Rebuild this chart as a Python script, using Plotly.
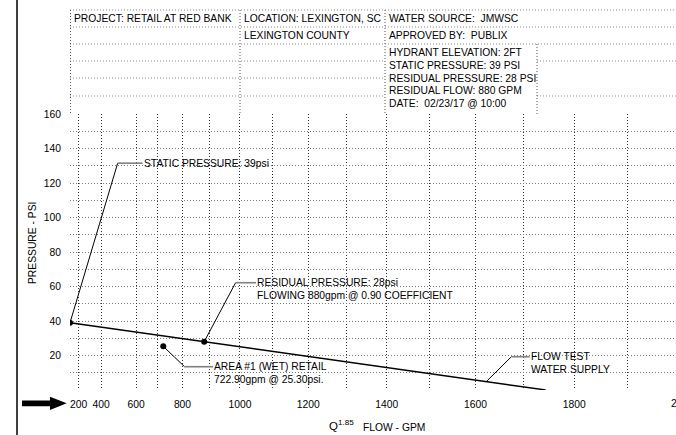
import plotly.graph_objects as go

EXP = 1.85  # N^1.85 hydraulic graph scale

# ---- data ----
supply_flow = [0, 880, 1744]          # flow test water supply line (gpm)
supply_psi = [39, 28, 0]
static_flow = [0]
static_psi = [39]
residual_flow = [880]
residual_psi = [28]
demand_flow = [722.9]
demand_psi = [25.3]

x_tick_flow = [200, 400, 600, 800, 1000, 1200, 1400, 1600, 1800]
x_tick_text = ["200", "400", "600", "800", "1000", "1200", "1400", "1600", "1800"]
x_extra_grid_flow = [0, 700, 900, 1100, 1300, 1500, 1700, 1900]
y_tick_vals = [20, 40, 60, 80, 100, 120, 140, 160]
flow_max = 1988
off_label_flow = 2000

# callouts: start point, elbow, end of horizontal leader, text lines
callout_start_flow = [0, 880, 722.9, 1623]
callout_start_psi = [39, 28, 25.3, 4.9]
callout_elbow_flow = [503, 986, 808, 1675]
callout_elbow_psi = [131.5, 62.2, 13.5, 19.3]
callout_end_flow = [631, 1050, 911, 1712]
callout_lines = [
    ["STATIC PRESSURE: 39psi"],
    ["RESIDUAL PRESSURE: 28psi", "FLOWING 880gpm @ 0.90 COEFFICIENT"],
    ["AREA #1 (WET) RETAIL", "722.90gpm @ 25.30psi."],
    ["FLOW TEST", "WATER SUPPLY"],
]

header_texts = [
    ("PROJECT: RETAIL AT RED BANK", 72, 18.3),
    ("LOCATION: LEXINGTON, SC", 242, 18.3),
    ("LEXINGTON COUNTY", 242, 35),
    ("WATER SOURCE:  JMWSC", 387, 18.3),
    ("APPROVED BY:  PUBLIX", 387, 35),
    ("HYDRANT ELEVATION: 2FT", 387, 53),
    ("STATIC PRESSURE: 39 PSI", 387, 65.5),
    ("RESIDUAL PRESSURE: 28 PSI", 387, 78),
    ("RESIDUAL FLOW: 880 GPM", 387, 90.5),
    ("DATE:  02/23/17 @ 10:00", 387, 103),
]


def t(q):
    return q ** EXP


W, H = 676, 435
L, R, T, B = 70, 0, 114, 45
PW, PH = W - L - R, H - T - B


def px(x):
    return (x - L) / PW


def py(y):
    return (H - B - y) / PH


FONT = "Arial, 'Liberation Sans', sans-serif"
FS = 10.3
fig = go.Figure()

# supply line
fig.add_trace(go.Scatter(x=[t(q) for q in supply_flow], y=supply_psi, mode="lines",
                         line=dict(color="black", width=1.4), hoverinfo="skip"))

# callout leaders
for i in range(len(callout_lines)):
    fig.add_trace(go.Scatter(
        x=[t(callout_start_flow[i]), t(callout_elbow_flow[i])],
        y=[callout_start_psi[i], callout_elbow_psi[i]],
        mode="lines", line=dict(color="black", width=1), hoverinfo="skip"))
    fig.add_trace(go.Scatter(
        x=[t(callout_elbow_flow[i]), t(callout_end_flow[i])],
        y=[callout_elbow_psi[i], callout_elbow_psi[i]],
        mode="lines", line=dict(color="#808080", width=1.6), hoverinfo="skip"))
    for j, line in enumerate(callout_lines[i]):
        fig.add_annotation(x=t(callout_end_flow[i]), y=callout_elbow_psi[i], xref="x", yref="y",
                           text=line, showarrow=False, xanchor="left", yanchor="middle",
                           yshift=-12.5 * j, xshift=-1,
                           font=dict(family=FONT, size=FS, color="black"))

# points
for fl, ps in [(static_flow, static_psi), (residual_flow, residual_psi), (demand_flow, demand_psi)]:
    fig.add_trace(go.Scatter(x=[t(q) for q in fl], y=ps, mode="markers",
                             marker=dict(color="black", size=6), hoverinfo="skip"))

grid_v = "#333333"
grid_h = "#7a7a7a"
dash = "1px,2px"

fig.update_xaxes(range=[0, t(flow_max)], tickvals=[t(q) for q in x_tick_flow], ticktext=x_tick_text,
                 showgrid=True, gridcolor=grid_v, griddash=dash, gridwidth=1,
                 minor=dict(tickvals=[t(q) for q in x_extra_grid_flow], showgrid=True,
                            gridcolor=grid_v, griddash=dash, gridwidth=1),
                 zeroline=False, showline=False, ticks="outside", ticklen=5,
                 tickcolor="rgba(0,0,0,0)", tickfont=dict(family=FONT, size=FS, color="black"))
fig.update_yaxes(range=[0, 160], tickvals=y_tick_vals,
                 showgrid=True, gridcolor=grid_h, griddash=dash, gridwidth=1,
                 minor=dict(dtick=10, tick0=0, showgrid=True, gridcolor=grid_h, griddash=dash, gridwidth=1),
                 zeroline=False, showline=False, ticks="outside", ticklen=6,
                 tickcolor="rgba(0,0,0,0)", tickfont=dict(family=FONT, size=FS, color="black"))

# off-range tick label 2000 (clipped by page edge)
fig.add_annotation(x=t(off_label_flow) / t(flow_max), y=py(403.3), xref="paper", yref="paper",
                   text=str(off_label_flow), showarrow=False, xanchor="center", yanchor="middle",
                   font=dict(family=FONT, size=FS, color="black"))

# axis titles
fig.add_annotation(x=px(32), y=py(243), xref="paper", yref="paper", text="PRESSURE - PSI",
                   textangle=-90, showarrow=False, xanchor="center", yanchor="middle",
                   font=dict(family=FONT, size=FS, color="black"))
fig.add_annotation(x=px(327), y=py(425), xref="paper", yref="paper", text="Q<sup>1.85</sup>",
                   showarrow=False, xanchor="left", yanchor="middle",
                   font=dict(family=FONT, size=11.5, color="black"))
fig.add_annotation(x=px(361), y=py(427), xref="paper", yref="paper", text="FLOW - GPM",
                   showarrow=False, xanchor="left", yanchor="middle",
                   font=dict(family=FONT, size=FS, color="black"))

# header texts
for txt, x, y in header_texts:
    fig.add_annotation(x=px(x), y=py(y), xref="paper", yref="paper", text=txt, showarrow=False,
                       xanchor="left", yanchor="middle", font=dict(family=FONT, size=FS, color="black"))

# header grid lines
hdr = dict(color="#8a8a8a", width=1, dash=dash)
hlines = [(10, 70, 676), (27, 70, 676), (44, 70, 676), (61, 70, 385), (61, 537, 676),
          (78, 70, 385), (96, 70, 385), (96, 537, 676)]
for y, x0, x1 in hlines:
    fig.add_shape(type="line", xref="paper", yref="paper", x0=px(x0), x1=px(x1), y0=py(y), y1=py(y), line=hdr)
vlines = [(70.5, 10, 114), (240, 10, 114), (385, 10, 114), (537, 44, 114)]
for x, y0, y1 in vlines:
    fig.add_shape(type="line", xref="paper", yref="paper", x0=px(x), x1=px(x), y0=py(y0), y1=py(y1),
                  line=dict(color="#555", width=1, dash=dash))

# page border line
fig.add_shape(type="line", xref="paper", yref="paper", x0=px(17), x1=px(17), y0=py(0), y1=py(435),
              line=dict(color="black", width=1.5))

# big arrow
pts = [(22, 400.5), (50, 400.5), (50, 396.7), (66.7, 403.3), (50, 410), (50, 406.2), (22, 406.2)]
path = "M " + " L ".join(f"{px(a):.5f},{py(b):.5f}" for a, b in pts) + " Z"
fig.add_shape(type="path", xref="paper", yref="paper", path=path, fillcolor="black",
              line=dict(color="black", width=0))

fig.update_layout(width=W, height=H, margin=dict(l=L, r=R, t=T, b=B),
                  paper_bgcolor="white", plot_bgcolor="white", showlegend=False)

fig.write_html("out.html", config={"displayModeBar": False},
               post_script="document.body.style.margin='0';document.body.style.overflow='hidden';")
